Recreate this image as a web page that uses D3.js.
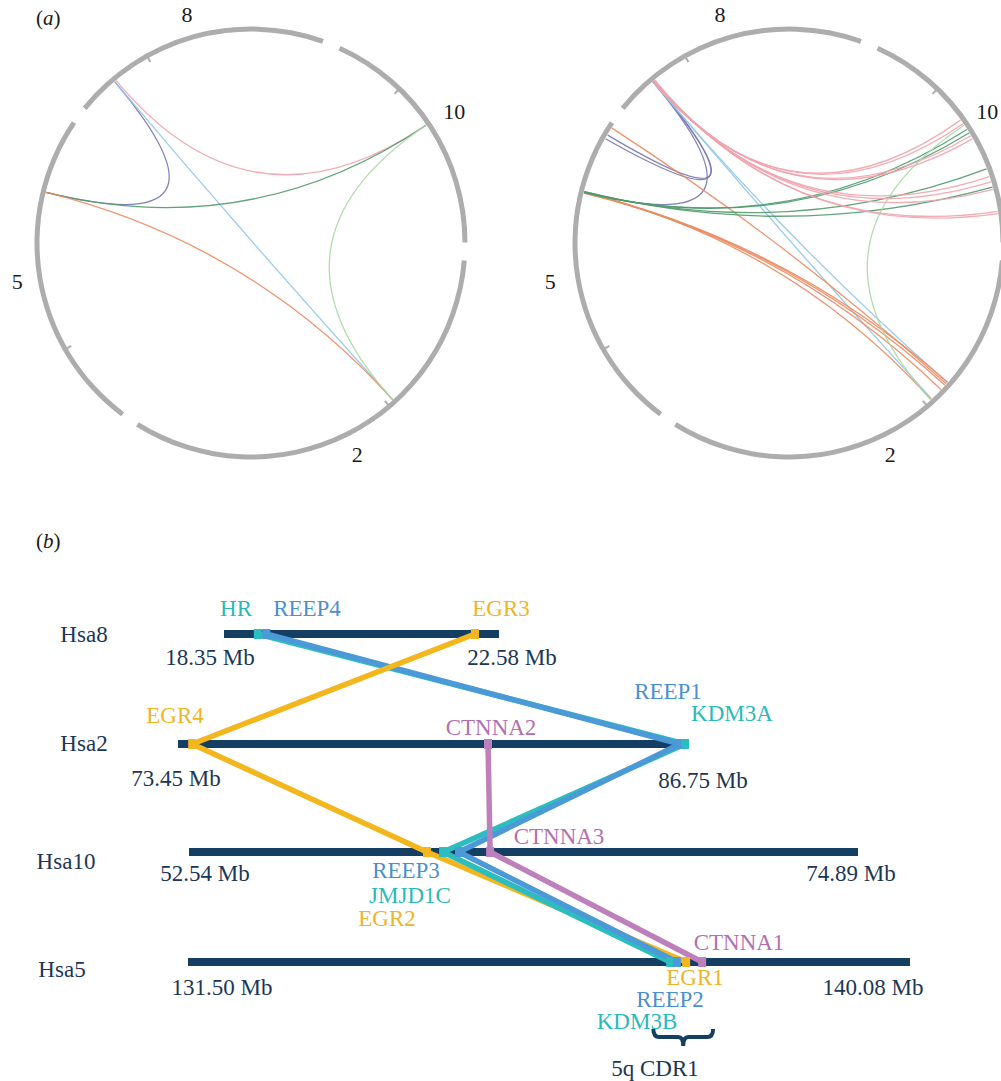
<!DOCTYPE html>
<html>
<head>
<meta charset="utf-8">
<script src="https://cdn.jsdelivr.net/npm/d3@7"></script>
<style>
  body { margin: 0; background: #fff; }
  svg text { font-family: "Liberation Serif", "Times New Roman", serif; }
</style>
</head>
<body>
<svg id="chart" width="1001" height="1081"></svg>
<script>
// ---------- panel (a): circos of Hsa8/10/2/5 ----------
const circChroms = ["8", "10", "2", "5"];
const circLengths = [146.36, 135.53, 243.20, 180.92];   // Mb
const centromeres = [45.4, 40.3, 93.3, 48.4];            // Mb

// links: [chrA, Mb, chrB, Mb]
const linksLeft = [
    ["8", 22.4, "5", 138.8],
    ["8", 22.4, "2", 89.5],
    ["8", 23.4, "10", 65.5],
    ["5", 138.8, "10", 65.5],
    ["5", 138.8, "2", 89.5],
    ["10", 65.5, "2", 89.5]
];
const linksRight = [
    ["8", 22.4, "5", 138.8],
    ["8", 22.6, "5", 171.4],
    ["8", 22.8, "5", 173.8],
    ["8", 22.4, "2", 76.0],
    ["8", 22.6, "2", 88.8],
    ["5", 138.8, "2", 75.8],
    ["5", 138.6, "2", 78.1],
    ["5", 138.4, "2", 81.4],
    ["5", 138.8, "2", 89.3],
    ["5", 178.4, "2", 77.0],
    ["5", 138.8, "10", 68.4],
    ["5", 138.8, "10", 70.7],
    ["5", 139.2, "10", 93.2],
    ["5", 139.2, "10", 104.0],
    ["8", 22.6, "10", 62.0],
    ["8", 22.8, "10", 64.5],
    ["8", 23.2, "10", 72.5],
    ["8", 23.4, "10", 74.5],
    ["8", 23.0, "10", 97.8],
    ["8", 23.2, "10", 100.9],
    ["8", 23.4, "10", 105.3],
    ["8", 23.6, "10", 117.9],
    ["8", 23.8, "10", 119.2],
    ["10", 65.5, "2", 89.5]
];

// ---------- panel (b): syntenic blocks ----------
const chromNames = ["Hsa8", "Hsa2", "Hsa10", "Hsa5"];
const chromStart = [18.35, 73.45, 52.54, 131.50];
const chromEnd = [22.58, 86.75, 74.89, 140.08];

const geneNames = ["HR", "REEP4", "EGR3", "EGR4", "CTNNA2", "REEP1", "KDM3A",
    "EGR2", "JMJD1C", "REEP3", "CTNNA3", "KDM3B", "REEP2", "EGR1", "CTNNA1"];
const geneChrom = ["Hsa8", "Hsa8", "Hsa8", "Hsa2", "Hsa2", "Hsa2", "Hsa2",
    "Hsa10", "Hsa10", "Hsa10", "Hsa10", "Hsa5", "Hsa5", "Hsa5", "Hsa5"];
const geneMb = [18.87, 19.00, 22.21, 73.82, 81.55, 86.57, 86.70,
    60.49, 61.03, 61.56, 62.60, 137.23, 137.31, 137.42, 137.61];
const geneFamily = ["KDM", "REEP", "EGR", "EGR", "CTNNA", "REEP", "KDM",
    "EGR", "KDM", "REEP", "CTNNA", "KDM", "REEP", "EGR", "CTNNA"];
const cdrRange = [137.03, 137.74];   // 5q CDR1 on Hsa5

// ---------- styles / layout ----------
const famColor = { KDM: "#2cbdc0", REEP: "#4b99d7", EGR: "#f3b71d", CTNNA: "#bd80bc" };
const famText = { KDM: "#2ab9bb", REEP: "#4a8fd0", EGR: "#f0b429", CTNNA: "#b370b0" };
const navy = "#143f63";
const navyText = "#1b3656";

const pairColor = {
    "10-8": "#f1a3ad", "10-5": "#4f9a6b", "10-2": "#a8d8a6",
    "2-5": "#ec8a60", "2-8": "#8fc6ea", "5-8": "#7574b2"
};

const svg = d3.select("#chart");

// ---------- draw circos ----------
const R = 214, ringW = 5, linkR = 211;
const gapDeg = 4.8, startDeg = -51;
const degPerMb = (360 - gapDeg * circChroms.length) / d3.sum(circLengths);
const chromOffset = {};
{
    let a = startDeg;
    circChroms.forEach((c, i) => {
        chromOffset[c] = a;
        a += circLengths[i] * degPerMb + gapDeg;
    });
}
const rad = d => d * Math.PI / 180;
const angleOf = (c, mb) => rad(chromOffset[c] + mb * degPerMb);

function drawCircos(cx, cy, links, labelShift) {
    const g = svg.append("g").attr("transform", `translate(${cx},${cy})`);
    const arc = d3.arc().innerRadius(R - ringW / 2).outerRadius(R + ringW / 2);

    g.selectAll("path.ring")
        .data(circChroms)
        .join("path")
        .attr("class", "ring")
        .attr("d", (c, i) => arc({
            startAngle: angleOf(c, 0),
            endAngle: angleOf(c, circLengths[i])
        }))
        .attr("fill", "#adadad");

    // centromere notches
    g.selectAll("line.cen")
        .data(circChroms)
        .join("line")
        .attr("class", "cen")
        .each(function (c, i) {
            const a = angleOf(c, centromeres[i]);
            d3.select(this)
                .attr("x1", (R - 2) * Math.sin(a)).attr("y1", -(R - 2) * Math.cos(a))
                .attr("x2", (R - 7) * Math.sin(a)).attr("y2", -(R - 7) * Math.cos(a));
        })
        .attr("stroke", "#adadad")
        .attr("stroke-width", 2);

    // links: quadratic bezier through the centre
    g.selectAll("path.link")
        .data(links)
        .join("path")
        .attr("class", "link")
        .attr("d", d => {
            const a1 = angleOf(d[0], d[1]), a2 = angleOf(d[2], d[3]);
            const p = d3.path();
            p.moveTo(linkR * Math.sin(a1), -linkR * Math.cos(a1));
            p.quadraticCurveTo(0, 0, linkR * Math.sin(a2), -linkR * Math.cos(a2));
            return p.toString();
        })
        .attr("fill", "none")
        .attr("stroke", d => pairColor[[d[0], d[2]].sort().join("-")])
        .attr("stroke-width", 1.3)
        .attr("stroke-opacity", 0.9);

    // chromosome labels
    g.selectAll("text.chr")
        .data(circChroms)
        .join("text")
        .attr("class", "chr")
        .each(function (c, i) {
            const a = angleOf(c, circLengths[i] / 2);
            const r = c === "10" ? 242 : 237;
            d3.select(this)
                .attr("x", r * Math.sin(a) + labelShift)
                .attr("y", -r * Math.cos(a));
        })
        .attr("text-anchor", "middle")
        .attr("dominant-baseline", "central")
        .attr("font-size", 22)
        .attr("fill", "#1a1a1a")
        .text(c => c);
}

drawCircos(251, 243, linksLeft, 0);
drawCircos(789, 243, linksRight, -5);

function panelLabel(x, y, letter) {
    const t = svg.append("text").attr("x", x).attr("y", y)
        .attr("font-size", 21).attr("fill", "#1a1a1a")
        .attr("dominant-baseline", "central");
    t.append("tspan").text("(");
    t.append("tspan").attr("font-style", "italic").text(letter);
    t.append("tspan").text(")");
}
panelLabel(36, 18, "a");
panelLabel(36, 541, "b");

// ---------- draw synteny panel ----------
const barLayout = {
    Hsa8:  { y: 634, x0: 224, x1: 499, name: [84, 634], s: [210, 657], e: [512, 657] },
    Hsa2:  { y: 744, x0: 178, x1: 687, name: [84, 743], s: [176, 778], e: [703, 780] },
    Hsa10: { y: 852, x0: 189, x1: 858, name: [66, 861], s: [205, 873], e: [851, 873] },
    Hsa5:  { y: 962, x0: 188, x1: 910, name: [62, 969], s: [222, 987], e: [873, 987] }
};
const geneLabelPos = {
    HR: [236, 608], REEP4: [307, 608], EGR3: [501, 608],
    EGR4: [175, 715], CTNNA2: [491, 727], REEP1: [668, 691], KDM3A: [732, 713],
    CTNNA3: [559, 836], REEP3: [406, 870], JMJD1C: [410, 895], EGR2: [387, 918],
    CTNNA1: [739, 942], EGR1: [695, 977], REEP2: [670, 999], KDM3B: [637, 1021]
};

const xScale = {};
chromNames.forEach((c, i) => {
    xScale[c] = d3.scaleLinear()
        .domain([chromStart[i], chromEnd[i]])
        .range([barLayout[c].x0, barLayout[c].x1]);
});

const genes = geneNames.map((n, i) => ({
    name: n, chrom: geneChrom[i], mb: geneMb[i], fam: geneFamily[i],
    x: xScale[geneChrom[i]](geneMb[i]), y: barLayout[geneChrom[i]].y
}));

const bg = svg.append("g");

// bars
bg.selectAll("rect.bar")
    .data(chromNames)
    .join("rect")
    .attr("class", "bar")
    .attr("x", c => barLayout[c].x0)
    .attr("y", c => barLayout[c].y - 4)
    .attr("width", c => barLayout[c].x1 - barLayout[c].x0)
    .attr("height", 8)
    .attr("fill", navy);

// connecting segments between consecutive chromosomes of each family
const segments = [];
chromNames.slice(0, -1).forEach((c, si) => {
    const next = chromNames[si + 1];
    Object.keys(famColor).forEach(f => {
        const a = genes.find(g => g.chrom === c && g.fam === f);
        const b = genes.find(g => g.chrom === next && g.fam === f);
        if (a && b) segments.push({ fam: f, seg: si, a, b });
    });
});
// stacking: first segment puts EGR on top, lower segments bury it
const zOrder = (s) => {
    const base = { EGR: 0, KDM: 1, REEP: 2, CTNNA: 3 }[s.fam];
    return s.seg === 0 && s.fam === "EGR" ? 9 : base;
};
segments.sort((p, q) => zOrder(p) - zOrder(q));

bg.selectAll("line.syn")
    .data(segments)
    .join("line")
    .attr("class", "syn")
    .attr("x1", d => d.a.x).attr("y1", d => d.a.y)
    .attr("x2", d => d.b.x).attr("y2", d => d.b.y)
    .attr("stroke", d => famColor[d.fam])
    .attr("stroke-width", 5.5)
    .attr("stroke-linecap", "butt");

// gene markers
bg.selectAll("rect.gene")
    .data(genes)
    .join("rect")
    .attr("class", "gene")
    .attr("x", d => d.x - 4)
    .attr("y", d => d.y - 5)
    .attr("width", 8)
    .attr("height", 10)
    .attr("fill", d => famColor[d.fam]);

// gene labels
bg.selectAll("text.gene")
    .data(genes)
    .join("text")
    .attr("class", "gene")
    .attr("x", d => geneLabelPos[d.name][0])
    .attr("y", d => geneLabelPos[d.name][1])
    .attr("text-anchor", "middle")
    .attr("dominant-baseline", "central")
    .attr("font-size", 23)
    .attr("fill", d => famText[d.fam])
    .text(d => d.name);

// chromosome names and Mb bounds
bg.selectAll("text.cname")
    .data(chromNames)
    .join("text")
    .attr("class", "cname")
    .attr("x", c => barLayout[c].name[0])
    .attr("y", c => barLayout[c].name[1])
    .attr("text-anchor", "middle")
    .attr("dominant-baseline", "central")
    .attr("font-size", 23)
    .attr("fill", navyText)
    .text(c => c);

const fmt = v => `${v.toFixed(2)} Mb`;
chromNames.forEach((c, i) => {
    [["s", chromStart[i]], ["e", chromEnd[i]]].forEach(([k, v]) => {
        bg.append("text")
            .attr("x", barLayout[c][k][0])
            .attr("y", barLayout[c][k][1])
            .attr("text-anchor", "middle")
            .attr("dominant-baseline", "central")
            .attr("font-size", 23)
            .attr("fill", navyText)
            .text(fmt(v));
    });
});

// 5q CDR1 brace
{
    const xl = xScale.Hsa5(cdrRange[0]), xr = xScale.Hsa5(cdrRange[1]);
    const xm = (xl + xr) / 2, top = 1029, mid = 1037, tip = 1046;
    const p = d3.path();
    p.moveTo(xl, top);
    p.quadraticCurveTo(xl, mid, xl + 6, mid);
    p.lineTo(xm - 5, mid);
    p.quadraticCurveTo(xm, mid, xm, tip);
    p.quadraticCurveTo(xm, mid, xm + 5, mid);
    p.lineTo(xr - 6, mid);
    p.quadraticCurveTo(xr, mid, xr, top);
    bg.append("path")
        .attr("d", p.toString())
        .attr("fill", "none")
        .attr("stroke", navy)
        .attr("stroke-width", 4);
    bg.append("text")
        .attr("x", 655).attr("y", 1068)
        .attr("text-anchor", "middle")
        .attr("dominant-baseline", "central")
        .attr("font-size", 23)
        .attr("fill", navyText)
        .text("5q CDR1");
}
</script>
</body>
</html>
